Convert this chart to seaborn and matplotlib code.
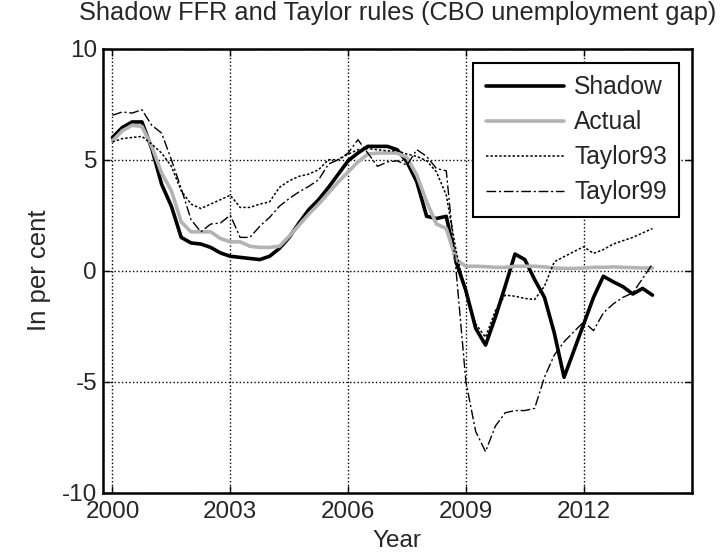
### Shadow FFR vs Taylor rules - recreation

import seaborn as sns
import matplotlib.pyplot as plt
import pandas as pd
import numpy as np

# Quarterly data, 2000Q1 .. 2013Q4 (values in per cent)
years = np.arange(2000, 2014, 0.25)

shadow = [6.0, 6.45, 6.7, 6.7, 5.5, 3.9, 2.9, 1.5,
          1.25, 1.2, 1.05, 0.8, 0.65, 0.6, 0.55, 0.5,
          0.65, 1.0, 1.5, 2.15, 2.75, 3.2, 3.75, 4.35,
          4.95, 5.3, 5.6, 5.6, 5.6, 5.45, 4.9, 4.0,
          2.45, 2.35, 2.45, 0.4, -0.9, -2.6, -3.35, -2.1,
          -0.7, 0.75, 0.5, -0.4, -1.2, -2.8, -4.8, -3.6,
          -2.4, -1.2, -0.25, -0.5, -0.72, -1.05, -0.8, -1.1]

actual = [5.85, 6.3, 6.55, 6.5, 5.6, 4.4, 3.6, 2.2,
          1.75, 1.75, 1.75, 1.45, 1.3, 1.3, 1.1, 1.05,
          1.05, 1.1, 1.55, 2.05, 2.55, 3.0, 3.5, 4.0,
          4.45, 4.9, 5.25, 5.3, 5.3, 5.3, 5.1, 4.3,
          3.1, 2.1, 1.9, 0.5, 0.2, 0.2, 0.18, 0.15,
          0.15, 0.2, 0.2, 0.2, 0.17, 0.12, 0.1, 0.1,
          0.12, 0.15, 0.15, 0.17, 0.15, 0.14, 0.12, 0.12]

taylor93 = [5.8, 5.95, 6.0, 6.05, 5.7, 5.3, 4.7, 3.6,
            3.0, 2.8, 3.0, 3.2, 3.4, 2.85, 2.85, 3.0,
            3.1, 3.75, 4.05, 4.25, 4.35, 4.55, 5.0, 5.0,
            5.25, 5.45, 5.5, 5.45, 5.4, 5.4, 5.25, 5.15,
            4.95, 4.45, 3.4, 0.9, -1.1, -2.4, -3.0, -1.8,
            -1.1, -1.15, -1.25, -1.3, -0.7, 0.4, 0.63, 0.86,
            1.08, 0.78, 0.95, 1.2, 1.35, 1.5, 1.7, 1.9]

taylor99 = [7.0, 7.15, 7.1, 7.25, 6.55, 6.2, 5.0, 3.7,
            2.3, 1.75, 2.1, 2.15, 2.5, 1.5, 1.5, 2.0,
            2.4, 2.9, 3.25, 3.55, 3.8, 4.1, 4.8, 5.0,
            5.3, 5.9, 5.3, 4.7, 4.9, 4.95, 4.75, 5.45,
            5.15, 4.6, 4.5, 0.0, -5.0, -7.25, -8.15, -7.0,
            -6.4, -6.3, -6.3, -6.2, -4.8, -3.8, -3.2, -2.75,
            -2.3, -2.7, -1.9, -1.5, -1.2, -1.0, -0.35, 0.3]

df = pd.DataFrame({'year': years, 'Shadow': shadow, 'Actual': actual,
                   'Taylor93': taylor93, 'Taylor99': taylor99})

sns.set_theme(style="ticks")
plt.rcParams['font.family'] = ['Liberation Sans', 'DejaVu Sans']
plt.rcParams['axes.unicode_minus'] = False
plt.rcParams['xtick.direction'] = 'in'
plt.rcParams['ytick.direction'] = 'in'

fig = plt.figure(figsize=(7.2, 5.59), dpi=100)
ax = fig.add_axes([0.1426, 0.1186, 0.8181, 0.7943])

# series styles: (column, color, linewidth, linestyle)
styles = [('Shadow', 'black', 2.6, '-'),
          ('Actual', '#b3b3b3', 2.6, '-'),
          ('Taylor93', 'black', 1.1, (0, (1.6, 1.3))),
          ('Taylor99', 'black', 1.0, (0, (7, 2, 1.5, 2)))]

for col, color, lw, ls in styles:
    sns.lineplot(data=df, x='year', y=col, color=color, linewidth=lw,
                 linestyle=ls, label=col, ax=ax)

ax.set_xlim(1999.75, 2014.75)
ax.set_ylim(-10, 10)
ax.set_xticks([2000, 2003, 2006, 2009, 2012])
ax.set_yticks([-10, -5, 0, 5, 10])
ax.grid(True, color='black', linestyle=':', linewidth=1.0)
ax.tick_params(axis='both', labelsize=17.5, length=5, width=1,
               top=True, right=True, color='black')
ax.tick_params(axis='x', pad=6)
ax.tick_params(axis='y', pad=4)
for s in ax.spines.values():
    s.set_linewidth(1.8)
    s.set_color('black')

ax.set_xlabel("Year", fontsize=17.5, labelpad=5)
ax.set_ylabel("In per cent", fontsize=18.5, labelpad=8)
ax.set_title("Shadow FFR and Taylor rules (CBO unemployment gap)",
             fontsize=18.3, pad=21)

leg = ax.legend(loc='upper right', bbox_to_anchor=(0.979, 0.968),
                borderaxespad=0, fontsize=17.7, handlelength=3.2,
                handletextpad=0.4, labelspacing=0.45, borderpad=0.5,
                fancybox=False, framealpha=1, edgecolor='black')
leg.get_frame().set_linewidth(1.5)

fig.savefig("out.png", dpi=100)
